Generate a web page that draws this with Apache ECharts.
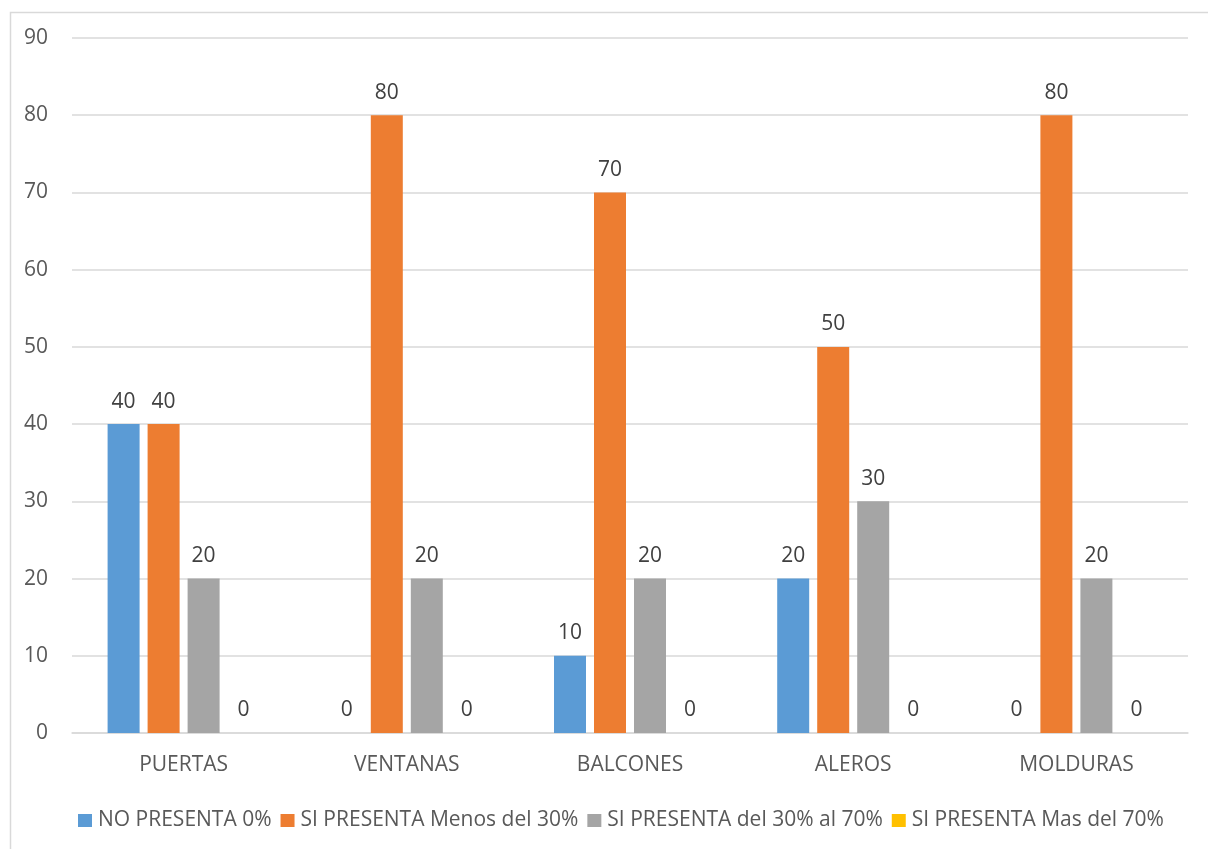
<!DOCTYPE html>
<html><head><meta charset="utf-8">
<script src="https://cdn.jsdelivr.net/npm/echarts@6/dist/echarts.min.js"></script>
<style>html,body{margin:0;padding:0;background:#fff}#c{width:1208px;height:849px}</style>
</head><body><div id="c"></div>
<script>
const categories = ['PUERTAS','VENTANAS','BALCONES','ALEROS','MOLDURAS'];
const seriesNames = ['NO PRESENTA 0%','SI PRESENTA Menos del 30%','SI PRESENTA del 30% al 70%','SI PRESENTA Mas del 70%'];
const noPresenta = [40, 0, 10, 20, 0];
const menos30 = [40, 80, 70, 50, 80];
const del30al70 = [20, 20, 20, 30, 20];
const mas70 = [0, 0, 0, 0, 0];
const colors = ['#5B9BD5','#ED7D31','#A5A5A5','#FFC000'];

const font = '"Open Sans", sans-serif';
const chart = echarts.init(document.getElementById('c'));
const mk = (name, data, color) => ({
  name, type: 'bar', data, barWidth: 32, barGap: '25%',
  itemStyle: { color },
  label: { show: true, position: 'top', distance: 12, color: '#404040', fontSize: 21, fontFamily: font },
  emphasis: { disabled: true }
});
chart.setOption({
  animation: false,
  textStyle: { fontFamily: font },
  graphic: [{ type: 'rect', left: 8, top: 10, shape: { width: 1220, height: 860 }, style: { fill: 'none', stroke: '#d9d9d9', lineWidth: 1.5 } }],
  grid: { left: 72, right: 20, top: 38, bottom: 116 },
  legend: {
    bottom: 13, left: 73, itemWidth: 14, itemHeight: 13, itemGap: 9, icon: 'rect',
    textStyle: { color: '#595959', fontSize: 21, fontFamily: font, padding: [0,0,0,1] },
    data: seriesNames
  },
  xAxis: {
    type: 'category', data: categories,
    axisLine: { lineStyle: { color: '#d9d9d9', width: 1.5 } },
    axisTick: { show: false },
    axisLabel: { color: '#595959', fontSize: 21, margin: 22, fontFamily: font }
  },
  yAxis: {
    type: 'value', min: 0, max: 90, interval: 10,
    axisLine: { show: false }, axisTick: { show: false },
    axisLabel: { color: '#595959', fontSize: 21, margin: 24, fontFamily: font },
    splitLine: { lineStyle: { color: '#d9d9d9', width: 1.5 } }
  },
  series: [
    mk(seriesNames[0], noPresenta, colors[0]),
    mk(seriesNames[1], menos30, colors[1]),
    mk(seriesNames[2], del30al70, colors[2]),
    mk(seriesNames[3], mas70, colors[3])
  ]
});
</script></body></html>
